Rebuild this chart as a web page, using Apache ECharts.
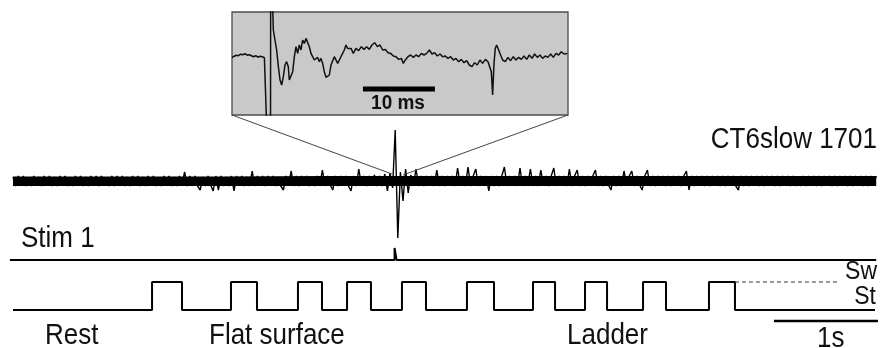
<!DOCTYPE html>
<html>
<head>
<meta charset="utf-8">
<script src="https://cdn.jsdelivr.net/npm/echarts@6/dist/echarts.min.js"></script>
<style>
html,body{margin:0;padding:0;background:#fff;}
#c{width:882px;height:348px;}
</style>
</head>
<body>
<div id="c"></div>
<script>
// ---------- DATA ----------
// Extracellular recording (arbitrary amplitude units), sampled every 0.025 s starting at 0 s
const noiseT0 = 0;
const noiseDt = 0.025;
const noiseV = [
 4,-5,5,-4,5,-5,3,-5,5,-4,4,-5,5,-3,5,-5,4,-5,5,-4,
 5,-5,3,-5,5,-4,5,-5,4,-5,5,-3,5,-5,5,-4,3,-5,5,-5,
 5,-4,5,-5,4,-5,5,-3,5,-5,4,-5,5,-4,5,-5,3,-5,5,-4,
 5,-5,4,-5,5,-4,9,-5,5,-4,5,-5,-9,4,-5,5,-4,-10,5,-9,
 5,-5,4,-5,5,-10,5,-4,5,-5,4,-5,10,-5,5,-4,5,-5,5,-4,
 5,-5,4,-5,-9,5,-4,10,-5,5,-5,5,-4,5,-5,4,-5,5,-4,11,
 -5,5,-4,-9,5,-5,5,-4,5,-5,-10,5,-5,12,-4,5,-5,5,-4,6,
 -5,5,-5,7,-10,8,-7,51,-57,9,-20,12,-12,6,-5,12,-5,5,-5,5,
 -4,5,-5,11,-5,5,-5,5,-4,5,-5,13,-4,5,-5,14,-5,5,12,-5,
 5,-4,5,-10,5,-5,5,-5,5,14,-5,5,-4,5,-5,13,-5,5,-4,12,
 -5,5,-5,11,-4,5,-5,5,13,-5,5,-4,5,-5,12,-5,5,11,-5,5,
 -5,5,-4,5,11,-5,5,-5,5,-4,-9,5,-5,5,-5,10,-4,5,10,-5,
 5,-4,-9,5,11,-5,5,-5,5,-4,5,-5,5,-5,5,-4,5,-5,5,10,
 -9,5,-5,5,-4,5,-5,5,-5,5,-4,5,-5,5,-5,5,-4,5,-5,-9,
 5,-5,5,-5,5,-4,5,-5,5,-5,5,-4,5,-5,5,-5,5,-4,5,-5,
 5,-5,4,-5,5,-5,5,-4,5,-5,5,-5,5,-4,5,-5,5,-5,5,-4,
 5,-5,5,-5,5,-4,5,-5,5,-5,5,-4,5
];
// Dense noise envelope of the recording (upper / lower bound, read at 1 s steps)
const bandT = [0, 1, 2, 3, 4, 5, 6, 7, 8.3];
const bandUpper = [4.5, 4.5, 4.5, 5, 5, 5, 5, 5, 5];
const bandLower = [-5, -5, -5, -5, -5, -5, -5, -5, -5];

// Stimulation channel (time s, level)
const stimT = [-0.03, 3.669, 3.669, 3.688, 3.688, 8.30];
const stimV = [0, 0, 12, 12, 0, 0];

// Step cycle: state changes (time s) ; 1 = swing (Sw), 0 = stance (St)
const stepT = [0, 1.337, 1.625, 2.096, 2.346, 2.740, 2.971, 3.212, 3.442, 3.740, 3.971,
               4.365, 4.625, 5.000, 5.212, 5.500, 5.712, 6.058, 6.279, 6.692, 6.942, 8.288];
const stepV = [0, 1, 0, 1, 0, 1, 0, 1, 0, 1, 0, 1, 0, 1, 0, 1, 0, 1, 0, 1, 0, 0];
const swingRefT = [6.942, 7.95];
const swingRefV = [1, 1];

// 1 s scale bar
const scaleBarT = [7.317, 8.317];

// Inset: expanded recording around the stimulus (time ms, amplitude)
const insetT = [0,0.3,0.6,0.9,1.2,1.5,1.8,2.1,2.4,2.7,3.0,3.3,3.6,3.9,4.2,4.5,4.75,4.8,4.82,5.35,5.37,5.6,5.65,
 5.74,5.97,6.20,6.44,6.67,6.90,7.13,7.36,7.59,7.82,7.96,8.19,8.43,8.66,8.89,9.12,9.35,9.58,9.81,10.05,10.28,10.51,
 10.74,10.97,11.20,11.44,11.67,11.90,12.13,12.36,12.59,12.82,13.06,13.29,13.52,13.75,13.98,14.21,14.44,14.68,14.91,
 15.14,15.37,15.60,15.83,16.06,16.30,16.53,16.85,17.22,17.59,17.96,18.33,18.70,19.07,19.44,19.81,20.19,20.56,20.93,
 21.30,21.67,22.04,22.41,22.78,23.15,23.52,23.80,24.07,24.44,24.81,25.19,25.56,25.93,26.30,26.67,27.04,27.41,27.78,
 28.15,28.52,28.89,29.26,29.63,30.00,30.37,30.74,31.11,31.48,31.85,32.22,32.59,32.96,33.33,33.70,34.07,34.44,34.81,
 35.19,35.56,35.83,36.02,36.20,36.39,36.57,36.76,37.04,37.31,37.59,37.96,38.33,38.70,39.07,39.44,39.81,40.19,40.56,
 40.93,41.30,41.67,42.04,42.41,42.78,43.15,43.52,43.89,44.26,44.63,45.00,45.37,45.74,46.11,46.57];
const insetV = [-1,0.5,1.5,1,2.5,2,3,1.5,2,1,0,1,-0.5,0.5,0,-1,0,0,-70,-70,60,60,50,
 26.7,16.7,6.7,-10,-23.3,-28.3,-20,-8.3,-5,-10,-23.3,-25,-15,0,10,3.3,11.7,6.7,16.7,13.3,18.3,16.7,
 10,3.3,0,-3.3,-5,-0.7,-5,-1.7,-6.7,-15,-20.7,-21.7,-18.3,-8.3,-6.7,0,1.7,-6.7,-3.3,
 0,1.7,6.7,11.7,8.3,6.7,8.3,3.3,8.3,6,10,7.3,10,7.3,11.7,14,10,11.7,6.7,
 7.3,4,3.3,0.7,0,-2.7,-1.7,-6.7,-3.3,0,1.7,-0.7,1.7,0,3.3,1.7,3.3,6.7,2.7,
 4,0.7,2.7,0,0.7,-1.7,0,-3.3,-1.7,-5,-2.7,-6,-4,-8.3,-10,-6,-8.3,-3.3,-6.7,
 -2.7,-5,-3.3,-15,-38.3,-6.7,8.3,11.7,6.7,1.7,-3.3,-5,-0.7,-4,0,-3.3,-0.7,-2.7,0.7,
 -2.7,1.7,-1.7,2.7,-0.7,1.7,-1.7,0.7,-0.7,2.7,-0.7,3.3,1.7,5,2.7,3.3];
const insetScaleBarT = [18.19, 28.19];

// Zoomed window on the main trace (s) that the inset expands
const zoomWindowT = [3.644, 3.75];
const zoomWindowV = [7, 6];

// ---------- CHART ----------
const chart = echarts.init(document.getElementById('c'), null, {renderer: 'canvas'});
const FONT = '"Liberation Sans", Arial, Helvetica, sans-serif';

const X_MIN = -0.125, X_MAX = 8.3558;
const INSET_X_MAX = 46.67, INSET_Y_MIN = -58.3, INSET_Y_MAX = 44.7;

function pairs(ts, vs) { return ts.map((t, i) => [t, vs[i]]); }
const noiseData = noiseV.map((v, i) => [noiseT0 + i * noiseDt, v]);

const hiddenX = (min, max, gi) => ({type: 'value', gridIndex: gi, min: min, max: max, show: false});
const hiddenY = (min, max, gi) => ({type: 'value', gridIndex: gi, min: min, max: max, show: false});

function txt(text, x, y, opt) {
  opt = opt || {};
  return {
    type: 'text', x: x, y: y, z: 50,
    scaleY: opt.scaleY || 1.13,
    style: {
      text: text,
      fontSize: opt.size || 26,
      fontFamily: FONT,
      fontWeight: opt.weight || 'normal',
      fill: '#111',
      align: opt.align || 'left', textAlign: opt.align || 'left',
      verticalAlign: 'middle', textVerticalAlign: 'middle'
    }
  };
}

const option = {
  backgroundColor: '#ffffff',
  animation: false,
  grid: [
    {left: 0, right: 0, top: 120, height: 130},   // recording
    {left: 0, right: 0, top: 240, height: 30},    // stim
    {left: 0, right: 0, top: 270, height: 60},    // step cycle
    {left: 232, top: 12, width: 336, height: 103, show: true,
     backgroundColor: '#c9c9c9', borderColor: '#4d4d4d', borderWidth: 1.3}  // inset
  ],
  xAxis: [hiddenX(X_MIN, X_MAX, 0), hiddenX(X_MIN, X_MAX, 1), hiddenX(X_MIN, X_MAX, 2), hiddenX(0, INSET_X_MAX, 3)],
  yAxis: [hiddenY(-69, 61, 0), hiddenY(-10, 20, 1), hiddenY(-0.714, 1.4286, 2), hiddenY(INSET_Y_MIN, INSET_Y_MAX, 3)],
  series: [
    {type: 'line', xAxisIndex: 0, yAxisIndex: 0, data: pairs(bandT, bandUpper), showSymbol: false,
     lineStyle: {width: 0}, areaStyle: {color: '#000', opacity: 1, origin: 0}},
    {type: 'line', xAxisIndex: 0, yAxisIndex: 0, data: pairs(bandT, bandLower), showSymbol: false,
     lineStyle: {width: 0}, areaStyle: {color: '#000', opacity: 1, origin: 0}},
    {type: 'line', xAxisIndex: 0, yAxisIndex: 0, data: noiseData, showSymbol: false, clip: true,
     lineStyle: {color: '#000', width: 1.4}},
    {type: 'line', xAxisIndex: 1, yAxisIndex: 1, data: pairs(stimT, stimV), showSymbol: false,
     lineStyle: {color: '#000', width: 2}},
    {type: 'line', xAxisIndex: 2, yAxisIndex: 2, data: pairs(stepT, stepV), step: 'end', showSymbol: false,
     lineStyle: {color: '#000', width: 2}},
    {type: 'line', xAxisIndex: 2, yAxisIndex: 2, data: pairs(swingRefT, swingRefV), showSymbol: false,
     lineStyle: {color: '#333', width: 1, type: [4, 3]}},
    {type: 'line', xAxisIndex: 2, yAxisIndex: 2, data: scaleBarT.map(t => [t, -0.393]), showSymbol: false,
     lineStyle: {color: '#000', width: 2.6}},
    {type: 'line', xAxisIndex: 3, yAxisIndex: 3, data: pairs(insetT, insetV), showSymbol: false, clip: true,
     lineStyle: {color: '#111', width: 1.5}},
    {type: 'line', xAxisIndex: 3, yAxisIndex: 3, data: insetScaleBarT.map(t => [t, -32.3]), showSymbol: false,
     lineStyle: {color: '#000', width: 5}}
  ],
  graphic: [
    txt('CT6slow 1701', 877, 140, {align: 'right'}),
    txt('Stim 1', 21, 239),
    txt('Rest', 45, 336),
    txt('Flat surface', 209, 336),
    txt('Ladder', 567, 336),
    txt('1s', 817, 339),
    txt('Sw', 877, 272, {align: 'right', size: 23, scaleY: 1.1}),
    txt('St', 876, 297, {align: 'right', size: 23, scaleY: 1.1}),
    txt('10 ms', 398, 104, {align: 'center', size: 19, weight: 'bold', scaleY: 1.05})
  ]
};
chart.setOption(option);

// connector lines from inset corners to the zoomed window on the recording
const bl = chart.convertToPixel({xAxisIndex: 3, yAxisIndex: 3}, [0, INSET_Y_MIN]);
const br = chart.convertToPixel({xAxisIndex: 3, yAxisIndex: 3}, [INSET_X_MAX, INSET_Y_MIN]);
const wl = chart.convertToPixel({xAxisIndex: 0, yAxisIndex: 0}, [zoomWindowT[0], zoomWindowV[0]]);
const wr = chart.convertToPixel({xAxisIndex: 0, yAxisIndex: 0}, [zoomWindowT[1], zoomWindowV[1]]);
chart.setOption({
  graphic: option.graphic.concat([
    {type: 'line', z: 40, shape: {x1: bl[0], y1: bl[1], x2: wl[0], y2: wl[1]}, style: {stroke: '#444', lineWidth: 1}},
    {type: 'line', z: 40, shape: {x1: br[0], y1: br[1], x2: wr[0], y2: wr[1]}, style: {stroke: '#444', lineWidth: 1}}
  ])
});
</script>
</body>
</html>
